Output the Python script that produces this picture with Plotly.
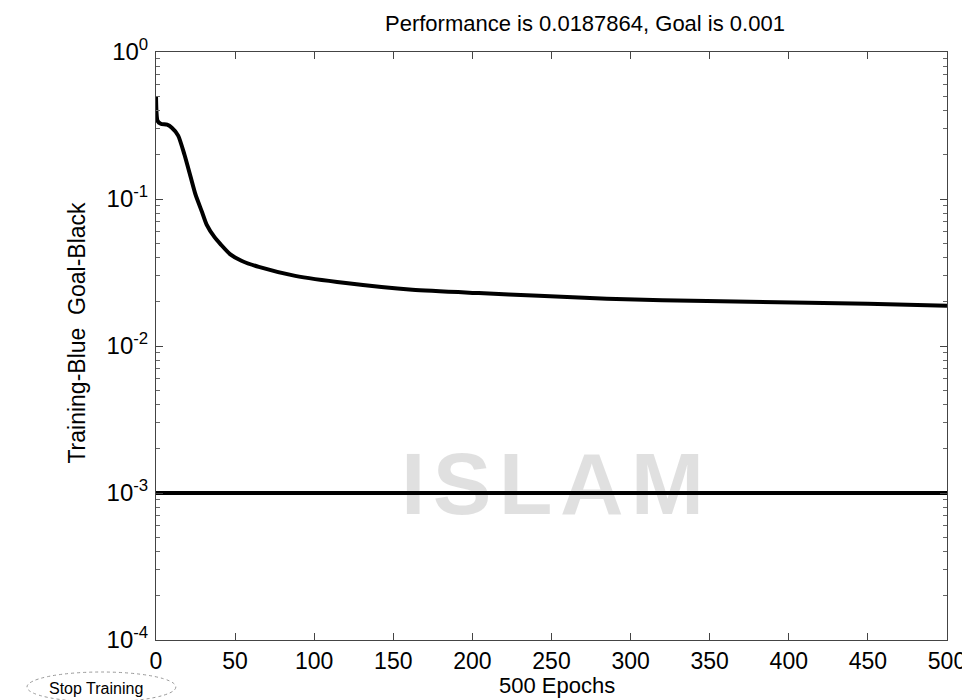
import plotly.graph_objects as go

# ---- data ----
epochs = [0, 1, 3, 7, 10, 14, 18, 22, 25, 29, 32, 37, 41, 47, 54, 65, 88, 120,
          162, 204, 242, 285, 320, 375, 450, 500]
performance = [0.50, 0.34, 0.325, 0.32, 0.305, 0.27, 0.20, 0.14, 0.107, 0.082,
               0.067, 0.055, 0.049, 0.042, 0.038, 0.0345, 0.030, 0.0268,
               0.0241, 0.0229, 0.0220, 0.0210, 0.0205, 0.0200, 0.0194, 0.0188]
goal_epochs = [0, 500]
goal_values = [0.001, 0.001]

x_ticks = [0, 50, 100, 150, 200, 250, 300, 350, 400, 450, 500]
y_tick_vals = [1e-4, 1e-3, 1e-2, 1e-1, 1]
y_tick_text = ["10<sup>-4</sup>", "10<sup>-3</sup>", "10<sup>-2</sup>",
               "10<sup>-1</sup>", "10<sup>0</sup>"]

title_text = "Performance is 0.0187864, Goal is 0.001"
x_title = "500 Epochs"
y_title = "Training-Blue  Goal-Black"
button_text = "Stop Training"
watermark = "I\u200aS\u200aL\u200aA\u200aM"

# ---- layout geometry (pixels) ----
W, H = 970, 700
L, R, T, B = 148, 945, 44, 632


def px(xp):
    return (xp - L) / (R - L)


def py(yp):
    return (B - yp) / (B - T)


FONT = "Liberation Sans, Arial, sans-serif"

fig = go.Figure()
fig.add_trace(go.Scatter(x=goal_epochs, y=goal_values, mode="lines",
                         line=dict(color="black", width=4),
                         showlegend=False, hoverinfo="skip"))
fig.add_trace(go.Scatter(x=epochs, y=performance, mode="lines",
                         line=dict(color="black", width=4, shape="spline",
                                   smoothing=0.6),
                         showlegend=False))

axis_common = dict(showgrid=False, zeroline=False, showline=True,
                   linecolor="#444", linewidth=1, mirror="ticks",
                   ticks="inside", tickcolor="#444", ticklen=7)

fig.update_xaxes(range=[0, 500], tickmode="array", tickvals=x_ticks,
                 ticklabelstandoff=0,
                 tickfont=dict(family=FONT, size=23, color="black"),
                 **axis_common)
fig.update_yaxes(type="log", range=[-4, 0], tickmode="array",
                 tickvals=y_tick_vals, ticktext=y_tick_text,
                 ticklabelstandoff=2,
                 tickfont=dict(family=FONT, size=24, color="black"),
                 minor=dict(ticks="inside", ticklen=4, tickcolor="#666",
                            dtick="D1", showgrid=False),
                 **axis_common)

annotations = [
    dict(text=watermark, x=px(548), y=py(476), xref="paper", yref="paper",
         showarrow=False, xanchor="center", yanchor="middle",
         font=dict(family=FONT, size=88, color="rgba(0,0,0,0.12)",
                   weight="bold")),
    dict(text=title_text, x=px(580), y=py(16), xref="paper", yref="paper",
         showarrow=False, xanchor="center", yanchor="middle",
         font=dict(family=FONT, size=22, color="black")),
    dict(text=x_title, x=px(552), y=py(677), xref="paper", yref="paper",
         showarrow=False, xanchor="center", yanchor="middle",
         font=dict(family=FONT, size=22, color="black")),
    dict(text=y_title, x=px(68), y=py(325), xref="paper", yref="paper",
         showarrow=False, xanchor="center", yanchor="middle", textangle=-90,
         font=dict(family=FONT, size=23, color="black")),
    dict(text=button_text, x=px(88), y=py(680), xref="paper", yref="paper",
         showarrow=False, xanchor="center", yanchor="middle",
         font=dict(family=FONT, size=16, color="black")),
]

shapes = [
    dict(type="circle", xref="paper", yref="paper",
         x0=px(18), x1=px(168), y0=py(694), y1=py(664),
         line=dict(color="#999", width=1, dash="dot")),
    dict(type="line", xref="paper", yref="paper",
         x0=px(14), x1=px(164), y0=py(695), y1=py(695),
         line=dict(color="#555", width=1)),
]

fig.update_layout(
    width=W, height=H,
    margin=dict(l=L, r=W - R, t=T, b=H - B, pad=0),
    paper_bgcolor="white", plot_bgcolor="white",
    font=dict(family=FONT, color="black"),
    annotations=annotations, shapes=shapes,
    showlegend=False,
)

fig.write_html("out.html")
